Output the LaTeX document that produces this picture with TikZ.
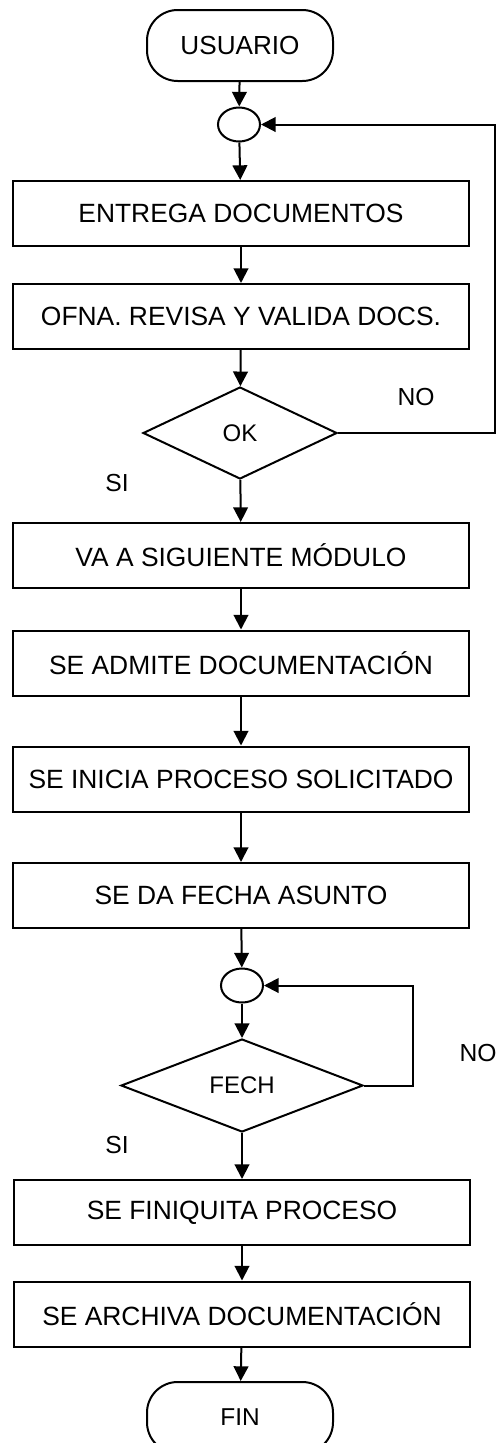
\documentclass[tikz,border=0pt]{standalone}
\usepackage{fontspec}
\setmainfont{Liberation Sans}
\usepackage{tikz}
\usetikzlibrary{arrows.meta, shapes.geometric}

\tikzset{
  paso/.style={draw, line width=1.5pt, rectangle, minimum width=342pt, minimum height=48.75pt, inner sep=0pt, font=\fontsize{19.8}{23}\selectfont},
  terminal/.style={draw, line width=1.5pt, rectangle, rounded corners=23pt, minimum width=139.5pt, minimum height=53.25pt, inner sep=0pt},
  conector/.style={draw, line width=1.5pt, ellipse, minimum width=31.5pt, minimum height=25.5pt, inner sep=0pt},
  decision/.style={draw, line width=1.5pt, diamond, inner sep=0pt, font=\fontsize{18}{21}\selectfont},
  etiqueta/.style={font=\fontsize{18.5}{21}\selectfont},
  flecha/.style={line width=1.5pt, -{Triangle[length=11pt,width=11pt]}}
}

\begin{document}
\begin{tikzpicture}[x=0.75pt,y=-0.75pt]
\useasboundingbox (0,0) rectangle (499,1443);
%\draw[step=50,gray,very thin] (0,0) grid (499,1443);
\node[terminal, font=\fontsize{19.6}{23}\selectfont] (usuario) at (240,45.5) {USUARIO};
\node[conector] (c1) at (239,124.5) {};
\node[paso] (entrega) at (241,213.5) {ENTREGA DOCUMENTOS};
\node[paso] (revisa) at (241,316.5) {OFNA. REVISA Y VALIDA DOCS.};
\node[decision, minimum width=145.5pt, minimum height=69pt] (ok) at (240,433) {OK};
\node[paso] (va) at (241,555.5) {VA A SIGUIENTE MÓDULO};
\node[paso] (admite) at (241,663) {SE ADMITE DOCUMENTACIÓN};
\node[paso] (inicia) at (241,779) {SE INICIA PROCESO SOLICITADO};
\node[paso] (fecha) at (241,895.5) {SE DA FECHA ASUNTO};
\node[conector] (c2) at (242,985.5) {};
\node[decision, minimum width=181.5pt, minimum height=69.75pt] (fech) at (242,1085.5) {FECH};
\node[paso] (finiquita) at (242,1212.5) {SE FINIQUITA PROCESO};
\node[paso] (archiva) at (242,1314) {SE ARCHIVA DOCUMENTACIÓN};
\node[terminal, font=\fontsize{18.3}{21}\selectfont] (fin) at (240,1417.5) {FIN};
% etiquetas
\node[etiqueta] (no1) at (416,397) {NO};
\node[etiqueta] (si1) at (117,483) {SI};
\node[etiqueta] (no2) at (478,1053) {NO};
\node[etiqueta] (si2) at (117,1145) {SI};
% flechas
\draw[flecha] (usuario) -- (c1);
\draw[flecha] (c1) -- (entrega);
\draw[flecha] (entrega) -- (revisa);
\draw[flecha] (revisa) -- (ok);
\draw[flecha] (ok) -- (va);
\draw[flecha] (va) -- (admite);
\draw[flecha] (admite) -- (inicia);
\draw[flecha] (inicia) -- (fecha);
\draw[flecha] (fecha) -- (c2);
\draw[flecha] (c2) -- (fech);
\draw[flecha] (fech) -- (finiquita);
\draw[flecha] (finiquita) -- (archiva);
\draw[flecha] (archiva) -- (fin);
% retornos
\coordinate (r1) at (495,433);
\coordinate (r2) at (413,1085.5);
\draw[flecha] (ok.east) -- (r1) |- (c1.east);
\draw[flecha] (fech.east) -- (r2) |- (c2.east);
\end{tikzpicture}
\end{document}
